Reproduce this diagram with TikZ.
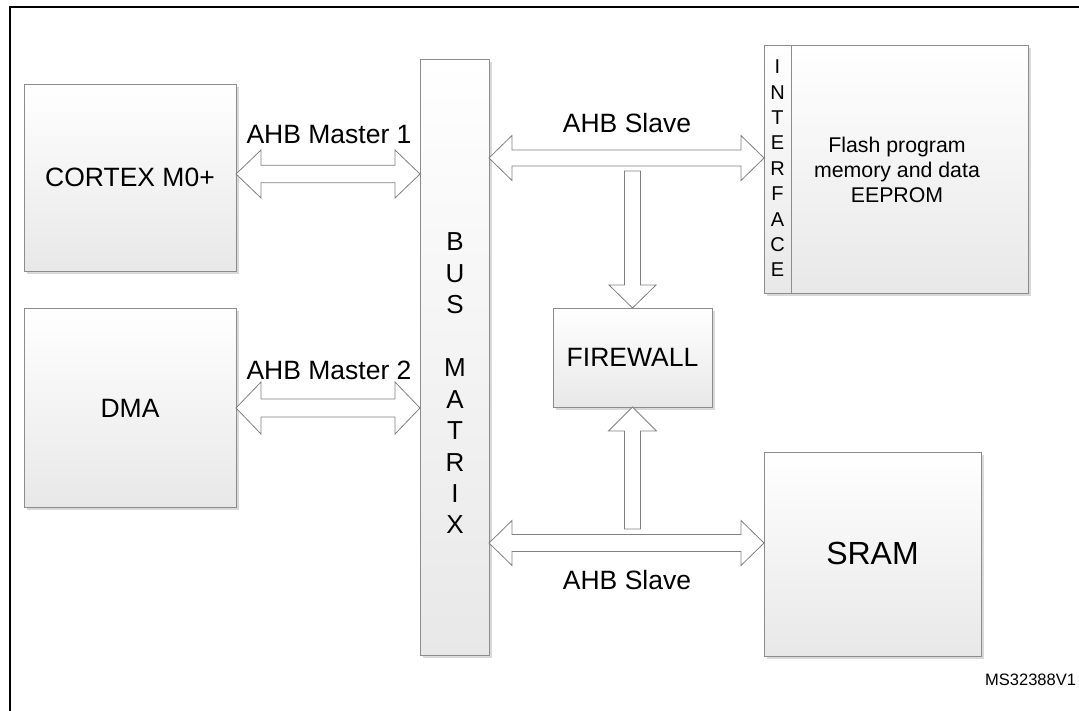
\documentclass[tikz,border=0pt]{standalone}
\usepackage{fontspec}
\setmainfont{Liberation Sans}
\usetikzlibrary{calc,shadows}
\definecolor{boxline}{HTML}{8C8C8C}
\definecolor{boxbot}{HTML}{E8E8E8}
\definecolor{shad}{HTML}{D9D9D9}
\definecolor{arrline}{HTML}{808080}
% horizontal double block arrow: left anchor, right anchor, y-coordinate, head length, head half, shaft half
\newcommand\hblock[6]{%
 \draw[blockarrow] (#1|-#3) -- ($(#1|-#3)+(#4,-#5)$) -- ($(#1|-#3)+(#4,-#6)$) -- ($(#2|-#3)+(-#4,-#6)$) -- ($(#2|-#3)+(-#4,-#5)$) -- (#2|-#3) -- ($(#2|-#3)+(-#4,#5)$) -- ($(#2|-#3)+(-#4,#6)$) -- ($(#1|-#3)+(#4,#6)$) -- ($(#1|-#3)+(#4,#5)$) -- cycle;}
\begin{document}
\begin{tikzpicture}[x=1pt,y=-1pt,
  box/.style={draw=boxline, line width=0.9pt, top color=white, bottom color=boxbot,
    drop shadow={shadow xshift=3pt, shadow yshift=-3pt, fill=shad, opacity=1},
    inner sep=0pt, outer sep=0pt},
  plain/.style={draw=boxline, line width=0.9pt, top color=white, bottom color=boxbot, inner sep=0pt, outer sep=0pt},
  blockarrow/.style={draw=arrline, line width=0.8pt, fill=white, line join=miter},
  lab/.style={font=\fontsize{26.5}{32}\selectfont, inner sep=0pt},
  every node/.style={text=black}]
\useasboundingbox (0,0) rectangle (1079,710);
\fill[white] (0,0) rectangle (1079,710);
\draw[line width=2pt] (10,7) rectangle (1100,735);

% boxes
\node[box, minimum width=212pt, minimum height=187pt] (cortex) at (130,177.5) {};
\node[box, minimum width=212pt, minimum height=199pt] (dma) at (130,407.5) {};
\node[box, minimum width=69pt, minimum height=596pt] (bus) at (454.5,357) {};
\node[box, minimum width=264pt, minimum height=248pt] (mem) at (896,169) {};
\node[plain, minimum width=27pt, minimum height=248pt] (iface) at (777.5,169) {};
\node[box, minimum width=159pt, minimum height=99pt] (firewall) at (632.5,357.5) {};
\node[box, minimum width=217pt, minimum height=204pt] (sram) at (872.5,554) {};

% box texts
\node[lab] (tcortex) at (130,177) {CORTEX M0+};
\node[lab] (tdma) at (130,408) {DMA};
\node[lab] (tfw) at (632.5,357) {FIREWALL};
\node[font=\fontsize{32}{38}\selectfont, inner sep=0pt] (tsram) at (872.5,553) {SRAM};
\node[font=\fontsize{26}{31.45}\selectfont, align=center, inner sep=0pt] (tbus) at (455,383.5)
  {B\\U\\S\\\mbox{}\\M\\A\\T\\R\\I\\X};
\node[font=\fontsize{20}{25.4}\selectfont, align=center, inner sep=0pt] (tiface) at (777.5,168.5)
  {I\\N\\T\\E\\R\\F\\A\\C\\E};
\node[font=\fontsize{21.3}{25}\selectfont, align=center, inner sep=0pt] (tflash) at (897,170)
  {Flash program\\memory and data\\EEPROM};

% coordinates for bus levels
\coordinate (m1) at (0,174);
\coordinate (m2) at (0,408);
\coordinate (s1) at (0,158);
\coordinate (s2) at (0,543);
\coordinate (dtail) at (632.5,171);
\coordinate (utail) at (632.5,529);

% arrows
\hblock{cortex.east}{bus.west}{m1}{25}{24}{8.7}
\hblock{dma.east}{bus.west}{m2}{25}{26}{9}
\hblock{bus.east}{iface.west}{s1}{23}{22.5}{8}
\hblock{bus.east}{sram.west}{s2}{23}{22.5}{8.5}
\draw[blockarrow] ($(dtail)+(-8,0)$) -- ($(firewall.north)+(-8,-23)$) -- ($(firewall.north)+(-23.5,-23)$) -- (firewall.north) -- ($(firewall.north)+(23.5,-23)$) -- ($(firewall.north)+(8,-23)$) -- ($(dtail)+(8,0)$) -- cycle;
\draw[blockarrow] ($(utail)+(-8,0)$) -- ($(firewall.south)+(-8,24)$) -- ($(firewall.south)+(-24,24)$) -- (firewall.south) -- ($(firewall.south)+(24,24)$) -- ($(firewall.south)+(8,24)$) -- ($(utail)+(8,0)$) -- cycle;

% labels
\node[lab] (lm1) at (329,135) {AHB Master 1};
\node[lab] (lm2) at (329,370) {AHB Master 2};
\node[lab] (ls1) at (627,123) {AHB Slave};
\node[lab] (ls2) at (627,580) {AHB Slave};
\node[font=\fontsize{16.5}{20}\selectfont, anchor=west, inner sep=0pt] (ref) at (985,680) {MS32388V1};
\end{tikzpicture}
\end{document}
